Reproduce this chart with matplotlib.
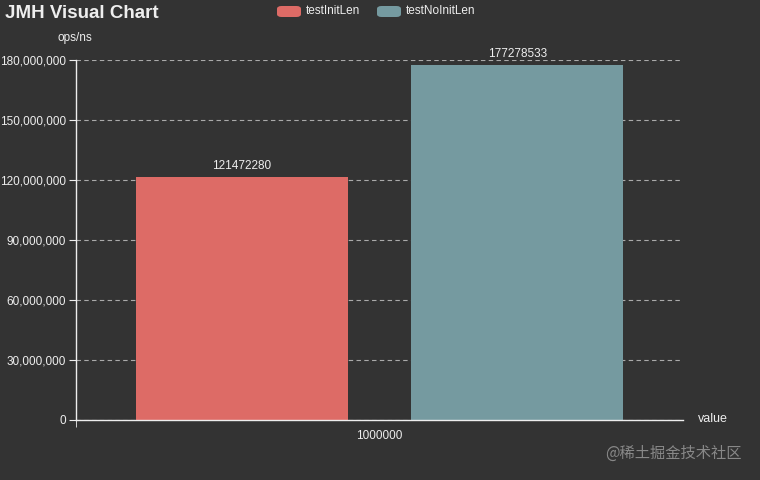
import matplotlib.pyplot as plt
from matplotlib.patches import FancyBboxPatch
from matplotlib.ticker import FuncFormatter

# data
categories = ['1000000']
series_names = ['testInitLen', 'testNoInitLen']
series_values = [121472280, 177278533]
colors = ['#dd6b66', '#759aa0']
bg = '#333333'

plt.rcParams['font.family'] = ['Liberation Sans', 'DejaVu Sans', 'Noto Sans CJK SC']

fig = plt.figure(figsize=(7.6, 4.8), dpi=100, facecolor=bg)
ax = fig.add_axes([0.1, 0.125, 0.799, 0.75], facecolor=bg)

width = 0.349
offsets = [-0.2265, 0.2265]
for name, val, col, off in zip(series_names, series_values, colors, offsets):
    ax.bar(off, val, width=width, color=col, zorder=3)
    ax.text(off, val + 2.5e6, str(val), ha='center', va='bottom',
            color='#eeeeee', fontsize=8.5)

ax.set_xlim(-0.5, 0.5)
ax.set_ylim(0, 180000000)
ax.set_yticks(range(0, 180000001, 30000000))
ax.yaxis.set_major_formatter(FuncFormatter(lambda v, p: f'{int(v):,}'))
ax.set_xticks([0])
ax.set_xticklabels(categories)
ax.set_xticks([-0.5], minor=True)
ax.tick_params(axis='x', which='major', length=0, colors='#eeeeee', labelsize=8.5, pad=7)
ax.tick_params(axis='x', which='minor', length=5, color='#eeeeee')
ax.tick_params(axis='y', length=5, color='#eeeeee', labelcolor='#eeeeee', labelsize=8.5, pad=2)

ax.grid(axis='y', linestyle=(0, (4, 3)), color='#aaaaaa', linewidth=0.8, zorder=0)
for s in ['top', 'right']:
    ax.spines[s].set_visible(False)
for s in ['left', 'bottom']:
    ax.spines[s].set_color('#eeeeee')
    ax.spines[s].set_linewidth(1)
ax.spines['bottom'].set_zorder(4)

# axis names
fig.text(75 / 760, 1 - 38 / 480, 'ops/ns', ha='center', va='center', color='#eeeeee', fontsize=8.5)
fig.text(698 / 760, 1 - 419 / 480, 'value', ha='left', va='center', color='#eeeeee', fontsize=9)

# title
fig.text(5 / 760, 1 - 13 / 480, 'JMH Visual Chart', ha='left', va='center',
         color='#eeeeee', fontsize=13.5, fontweight='bold')

# legend
leg_x = [277, 377]
for name, col, lx in zip(series_names, colors, leg_x):
    box = FancyBboxPatch((lx / 760, 1 - 17 / 480), 24 / 760, 11 / 480,
                         boxstyle='round,pad=0,rounding_size=0.006',
                         transform=fig.transFigure, facecolor=col, edgecolor='none')
    fig.patches.append(box)
    fig.text((lx + 29) / 760, 1 - 11 / 480, name, ha='left', va='center',
             color='#eeeeee', fontsize=8.5)

# watermark
fig.text(742 / 760, 1 - 453 / 480, '@稀土掘金技术社区', ha='right', va='center',
         color='#888888', fontsize=11, family=['Noto Sans CJK SC', 'DejaVu Sans'])

fig.savefig('out.png', dpi=100, facecolor=bg)
